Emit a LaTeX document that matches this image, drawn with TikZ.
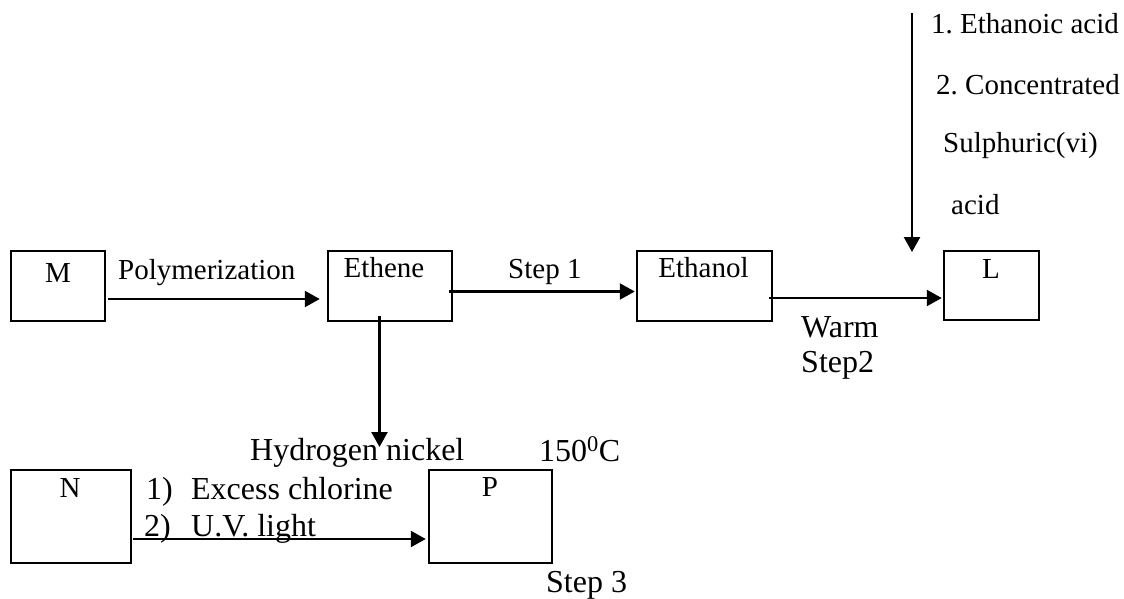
\documentclass[tikz,border=0pt]{standalone}
\usepackage{fontspec}
\setmainfont{Liberation Serif}
\usetikzlibrary{arrows.meta,calc}
\frenchspacing
\begin{document}
\begin{tikzpicture}[x=1pt,y=-1pt,
  box/.style={draw,line width=2.5pt,inner sep=0pt,minimum height=70pt},
  arr/.style={line width=2.4pt,-{Triangle[length=15pt,width=16pt]}},
  lab/.style={inner sep=0pt,anchor=base west,font=\fontsize{29}{34}\selectfont},
  title/.style={inner sep=0pt,anchor=base,font=\fontsize{29}{34}\selectfont},
  big/.style={inner sep=0pt,anchor=base west,font=\fontsize{32}{38}\selectfont}]
\useasboundingbox[fill=white] (0,0) rectangle (1124,599);

% boxes
\node[box,minimum width=94pt] (M) at (58,286) {};
\node[box,minimum width=124pt] (E) at (390,286) {};
\node[box,minimum width=135pt] (Eol) at (704.5,286) {};
\node[box,minimum width=95pt,minimum height=69pt] (L) at (991.5,285.5) {};
\node[box,minimum width=120pt,minimum height=93pt] (N) at (71,516.5) {};
\node[box,minimum width=123pt,minimum height=93pt] (P) at (490.5,516.5) {};

% box titles
\node[title] (Mt) at (58,282) {M};
\node[title] (Et) at (384,277) {Ethene};
\node[title] (Eolt) at (703.5,277) {Ethanol};
\node[title] (Lt) at (991,278) {L};
\node[title] (Nt) at (70,497) {N};
\node[title] (Pt) at (490,496) {P};

% free ends
\coordinate (topstart) at (912,13);
\coordinate (topend) at (912,252);
\coordinate (hend) at (379.5,447);

% connectors
\draw[arr] ($(M.east)+(2,13)$) -- ($(E.west)+(-7,13)$);
\draw[arr] ($(E.east)+(-4,5.5)$) -- ($(Eol.west)+(-1,5.5)$);
\draw[arr] ($(Eol.east)+(-4,12)$) -- ($(L.west)+(-1,12.5)$);
\draw[arr] ($(E.south)+(-10.5,-6)$) -- (hend);
\draw[arr] (topstart) -- (topend);
\draw[arr] ($(N.east)+(1,22.5)$) -- ($(P.west)+(-2,22.5)$);

% labels
\node[lab] (poly) at (118,279) {Polymerization};
\node[lab] (s1) at (508,278) {Step 1};
\node[big] (warm) at (801,337) {Warm};
\node[big] (s2) at (801,372) {Step2};
\node[lab] (r1) at (931,34) {1. Ethanoic acid};
\node[lab] (r2) at (936,95) {2. Concentrated};
\node[lab] (r3) at (943,153) {Sulphuric(vi)};
\node[lab] (r4) at (951,214) {acid};
\node[big] (hn) at (250,460) {Hydrogen nickel};
\node[big] (temp) at (539,461) {150\textsuperscript{0}C};
\node[big] (c1) at (146,499) {\makebox[45pt][l]{1)}Excess chlorine};
\node[big] (c2) at (144,536) {\makebox[47pt][l]{2)}U.V. light};
\node[big] (s3) at (546,592) {Step 3};
\end{tikzpicture}
\end{document}
